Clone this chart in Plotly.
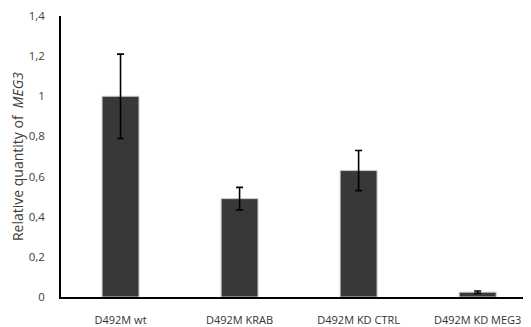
import plotly.graph_objects as go

categories = ["D492M wt", "D492M KRAB", "D492M KD CTRL", "D492M KD MEG3"]
values = [1.0, 0.49, 0.63, 0.024]
errors = [0.21, 0.056, 0.1, 0.006]
ytick_vals = [0, 0.2, 0.4, 0.6, 0.8, 1.0, 1.2, 1.4]
ytick_text = ["0", "0,2", "0,4", "0,6", "0,8", "1", "1,2", "1,4"]

fig = go.Figure()
fig.add_trace(go.Bar(
    x=categories, y=values, width=0.31,
    marker=dict(color="#3a3836", line=dict(color="#c8c8c8", width=1)),
    error_y=dict(type="data", array=errors, visible=True, color="#000000",
                 thickness=1.6, width=3.5),
))

font = "Open Sans, Liberation Sans, sans-serif"
# page body has an 8px default margin, so the figure is offset by 8px
fig.update_layout(
    width=523, height=319,
    margin=dict(l=53, r=0, t=6, b=27),
    paper_bgcolor="white", plot_bgcolor="white",
    showlegend=False,
    font=dict(family=font, size=11, color="#404040"),
    xaxis=dict(
        range=[-0.5, 3.448], showline=True, linecolor="#000000", linewidth=1.5,
        ticks="", showgrid=False, tickfont=dict(size=11, color="#333333"),
        ticklabelstandoff=12,
    ),
    yaxis=dict(
        range=[0, 1.4], tickvals=ytick_vals, ticktext=ytick_text,
        showline=True, linecolor="#000000", linewidth=1.5, ticks="",
        showgrid=False, zeroline=False, tickfont=dict(size=11.5, color="#404040"),
        ticklabelstandoff=12, ticklabeloverflow="allow",
        title=dict(text="Relative quantity of  <i>MEG3</i>", standoff=10,
                   font=dict(size=14, color="#404040")),
    ),
)
fig.write_html("out.html")
